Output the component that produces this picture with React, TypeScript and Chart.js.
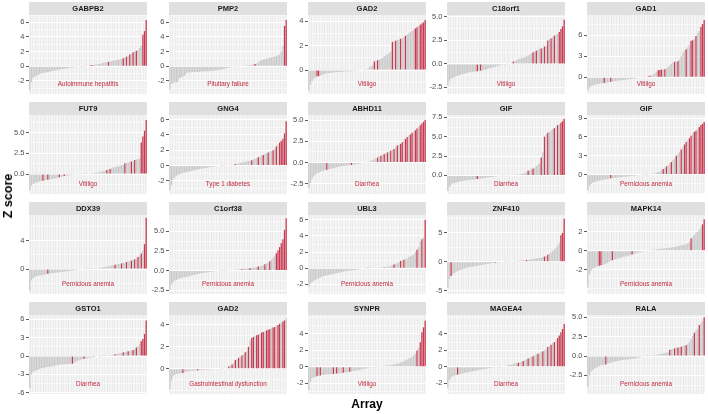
import React, { useEffect, useRef } from "react";
import { Chart, registerables } from "chart.js";
Chart.register(...registerables);

// ---------- data ----------
const genes = ["GABPB2", "PMP2", "GAD2", "C18orf1", "GAD1", "FUT9", "GNG4", "ABHD11", "GIF", "GIF",
  "DDX39", "C1orf38", "UBL3", "ZNF410", "MAPK14", "GSTO1", "GAD2", "SYNPR", "MAGEA4", "RALA"];
const diseases = ["Autoimmune hepatitis", "Pituitary failure", "Vitiligo", "Vitiligo", "Vitiligo",
  "Vitiligo", "Type 1 diabetes", "Diarrhea", "Diarrhea", "Pernicious anemia",
  "Pernicious anemia", "Pernicious anemia", "Pernicious anemia", "", "Pernicious anemia",
  "Diarrhea", "Gastrointestinal dysfunction", "Vitiligo", "Diarrhea", "Pernicious anemia"];
const yMins = [-3.8, -3.8, -1.96, -3.2, -2.4, -2.4, -3.7, -3.7, -2.4, -3.1, -3.5, -3.0, -3.2, -5.6, -4.6, -6.2, -2.3, -3.3, -3.3, -4.9];
const yMaxs = [7.0, 7.0, 4.5, 5.2, 8.9, 7.1, 6.6, 5.6, 7.8, 9.5, 7.6, 7.1, 6.6, 8.1, 3.8, 6.7, 4.9, 6.3, 6.3, 5.3];
const tickSets = [
  [-2, 0, 2, 4, 6], [-2, 0, 2, 4, 6], [0, 2, 4], [-2.5, 0, 2.5, 5], [0, 3, 6],
  [0, 2.5, 5], [-2, 0, 2, 4, 6], [-2.5, 0, 2.5, 5], [0, 2.5, 5, 7.5], [0, 3, 6, 9],
  [0, 4], [-2.5, 0, 2.5, 5], [-2, 0, 2, 4, 6], [-5, 0, 5], [-2, 0, 2],
  [-6, -3, 0, 3, 6], [0, 2, 4], [-2, 0, 2, 4], [-2, 0, 2, 4], [-2.5, 0, 2.5, 5]];

const arrays = Array.from({ length: 72 }, (_, i) => String(i + 1));

const z01 = [-3.3, -2.2, -1.6, -1.4, -1.3, -1.2, -1.1, -1.0, -0.95, -0.9, -0.85, -0.8,
  -0.75, -0.7, -0.65, -0.6, -0.55, -0.5, -0.45, -0.42, -0.38, -0.35, -0.3, -0.27,
  -0.24, -0.2, -0.17, -0.14, -0.11, -0.08, -0.05, -0.03, -0.02, -0.01, 0.01, 0.02,
  0.05, 0.15, 0.18, 0.2, 0.22, 0.25, 0.3, 0.35, 0.4, 0.45, 0.5, 0.55,
  0.6, 0.65, 0.7, 0.75, 0.8, 0.85, 0.9, 0.95, 1.0, 1.1, 1.2, 1.3,
  1.4, 1.6, 1.7, 1.9, 2.0, 2.1, 2.2, 2.5, 2.8, 4.3, 4.8, 6.3];
const red01 = [37, 38, 48, 57, 59, 61, 63, 65, 69, 70, 71];

const z02 = [-3.2, -2.4, -2.3, -2.2, -2.2, -2.1, -1.6, -1.5, -1.4, -1.3, -1.0, -0.9,
  -0.85, -0.85, -0.8, -0.8, -0.8, -0.78, -0.76, -0.74, -0.72, -0.7, -0.7, -0.68,
  -0.66, -0.64, -0.62, -0.6, -0.58, -0.55, -0.5, -0.45, -0.4, -0.35, -0.3, -0.25,
  -0.2, -0.15, -0.1, -0.05, -0.02, 0.01, 0.03, 0.05, 0.07, 0.09, 0.1, 0.12,
  0.14, 0.16, 0.2, 0.25, 0.3, 0.35, 0.5, 0.7, 0.8, 0.9, 1.0, 1.05,
  1.1, 1.15, 1.2, 1.25, 1.3, 1.4, 1.5, 1.6, 2.0, 2.8, 5.5, 6.3];
const red02 = [52, 70, 71];

const z03 = [-1.7, -1.2, -0.9, -0.7, -0.6, -0.5, -0.5, -0.45, -0.4, -0.35, -0.3, -0.28,
  -0.26, -0.24, -0.22, -0.2, -0.19, -0.18, -0.17, -0.16, -0.15, -0.14, -0.13, -0.12,
  -0.11, -0.1, -0.09, -0.08, -0.07, -0.06, -0.05, -0.04, -0.03, -0.02, -0.01, 0.02,
  0.1, 0.2, 0.3, 0.4, 0.7, 0.75, 0.8, 0.85, 0.9, 1.0, 1.1, 1.2,
  1.3, 1.4, 1.5, 2.3, 2.35, 2.4, 2.45, 2.5, 2.55, 2.6, 2.7, 2.8,
  2.9, 3.0, 3.1, 3.2, 3.3, 3.4, 3.5, 3.6, 3.7, 3.8, 3.9, 4.1];
const red03 = [5, 6, 40, 42, 51, 53, 56, 59, 65, 66, 68, 69, 70, 71];

const z04 = [-2.3, -1.8, -1.6, -1.5, -1.4, -1.3, -1.25, -1.2, -1.15, -1.1, -1.05, -1.0,
  -0.95, -0.9, -0.88, -0.85, -0.82, -0.8, -0.78, -0.75, -0.72, -0.7, -0.65, -0.6,
  -0.55, -0.5, -0.45, -0.4, -0.35, -0.3, -0.25, -0.2, -0.15, -0.1, -0.05, -0.02,
  0.01, 0.03, 0.05, 0.1, 0.25, 0.3, 0.4, 0.5, 0.55, 0.6, 0.65, 0.7,
  0.8, 0.9, 1.0, 1.1, 1.25, 1.3, 1.4, 1.5, 1.6, 1.65, 1.7, 1.85,
  1.9, 2.5, 2.6, 2.7, 2.8, 3.0, 3.1, 3.2, 3.4, 3.7, 4.0, 4.7];
const red04 = [18, 20, 40, 52, 54, 57, 59, 61, 63, 65, 68, 69, 70, 71];

const z05 = [-1.9, -1.5, -1.3, -1.2, -1.1, -1.05, -1.0, -0.95, -0.9, -0.85, -0.82, -0.8,
  -0.75, -0.7, -0.66, -0.65, -0.6, -0.55, -0.5, -0.48, -0.45, -0.42, -0.4, -0.37,
  -0.34, -0.3, -0.27, -0.24, -0.2, -0.17, -0.14, -0.1, -0.07, -0.04, -0.02, 0.01,
  0.05, 0.15, 0.2, 0.25, 0.4, 0.6, 0.8, 1.0, 1.05, 1.1, 1.1, 1.15,
  1.3, 1.5, 1.7, 1.9, 2.1, 2.2, 2.25, 2.3, 2.5, 3.0, 3.5, 3.8,
  4.0, 4.3, 4.6, 5.2, 5.3, 5.5, 5.9, 6.3, 6.6, 7.2, 7.6, 8.2];
const red05 = [10, 14, 37, 38, 43, 44, 45, 47, 53, 55, 60, 63, 64, 66, 69, 70, 71];

const z06 = [-1.9, -1.4, -1.2, -1.1, -1.0, -0.95, -0.9, -0.85, -0.8, -0.75, -0.7, -0.68,
  -0.65, -0.6, -0.58, -0.55, -0.5, -0.45, -0.4, -0.35, -0.3, -0.25, -0.2, -0.18,
  -0.15, -0.12, -0.1, -0.08, -0.06, -0.04, -0.03, -0.02, -0.01, 0.01, 0.02, 0.03,
  0.05, 0.07, 0.1, 0.12, 0.15, 0.18, 0.2, 0.25, 0.3, 0.35, 0.4, 0.5,
  0.55, 0.6, 0.7, 0.8, 0.85, 0.9, 0.95, 1.0, 1.05, 1.1, 1.3, 1.35,
  1.4, 1.45, 1.5, 1.55, 1.7, 1.75, 1.8, 1.9, 3.8, 4.5, 5.2, 6.5];
const red06 = [8, 11, 18, 21, 47, 49, 58, 62, 64, 68, 69, 70, 71];

const z07 = [-3.2, -2.5, -1.8, -1.5, -1.3, -1.2, -1.1, -1.0, -0.95, -0.9, -0.85, -0.8,
  -0.75, -0.7, -0.65, -0.6, -0.55, -0.5, -0.46, -0.42, -0.38, -0.34, -0.3, -0.26,
  -0.22, -0.18, -0.15, -0.12, -0.09, -0.06, -0.04, -0.02, 0.01, 0.02, 0.03, 0.05,
  0.08, 0.1, 0.12, 0.15, 0.2, 0.25, 0.3, 0.35, 0.4, 0.45, 0.5, 0.55,
  0.6, 0.65, 0.7, 0.8, 0.9, 1.0, 1.1, 1.2, 1.3, 1.4, 1.5, 1.6,
  1.7, 1.8, 1.9, 2.0, 2.2, 2.5, 2.8, 3.0, 3.2, 3.5, 4.2, 5.8];
const red07 = [37, 40, 50, 54, 57, 60, 63, 65, 67, 68, 69, 70, 71];

const z08 = [-3.0, -2.4, -1.9, -1.6, -1.4, -1.3, -1.2, -1.1, -1.0, -0.95, -0.9, -0.85,
  -0.8, -0.75, -0.7, -0.65, -0.6, -0.55, -0.5, -0.47, -0.44, -0.41, -0.38, -0.35,
  -0.32, -0.3, -0.28, -0.25, -0.22, -0.19, -0.16, -0.13, -0.1, -0.07, -0.04, -0.01,
  0.02, 0.1, 0.2, 0.3, 0.4, 0.5, 0.6, 0.7, 0.8, 0.9, 1.0, 1.1,
  1.2, 1.3, 1.4, 1.5, 1.6, 1.8, 2.0, 2.1, 2.2, 2.4, 2.6, 2.8,
  3.0, 3.2, 3.3, 3.5, 3.6, 3.8, 4.0, 4.2, 4.4, 4.6, 4.8, 5.0];
const red08 = [11, 26, 42, 44, 46, 48, 50, 52, 54, 56, 57, 59, 60, 62, 63, 65, 66, 68, 69, 70, 71];

const z09 = [-2.0, -1.5, -1.2, -1.0, -0.95, -0.9, -0.85, -0.8, -0.75, -0.7, -0.68, -0.65,
  -0.62, -0.6, -0.57, -0.55, -0.52, -0.5, -0.45, -0.42, -0.4, -0.37, -0.34, -0.31,
  -0.28, -0.25, -0.22, -0.19, -0.16, -0.13, -0.1, -0.08, -0.06, -0.04, -0.02, 0.01,
  0.02, 0.03, 0.04, 0.05, 0.06, 0.08, 0.1, 0.12, 0.15, 0.2, 0.25, 0.3,
  0.4, 0.6, 0.7, 0.8, 0.9, 1.0, 1.2, 1.4, 1.6, 2.3, 3.0, 5.0,
  5.3, 5.5, 5.6, 5.8, 6.0, 6.1, 6.3, 6.5, 6.6, 6.8, 7.0, 7.3];
const red09 = [18, 49, 52, 57, 59, 61, 65, 67, 69, 70, 71];

const z10 = [-2.5, -1.8, -1.5, -1.3, -1.2, -1.1, -1.0, -0.95, -0.9, -0.85, -0.8, -0.75,
  -0.7, -0.65, -0.6, -0.58, -0.55, -0.5, -0.47, -0.44, -0.41, -0.38, -0.35, -0.32,
  -0.29, -0.26, -0.23, -0.2, -0.17, -0.14, -0.11, -0.08, -0.05, -0.03, -0.01, 0.01,
  0.03, 0.05, 0.08, 0.1, 0.15, 0.2, 0.3, 0.4, 0.5, 0.7, 0.9, 1.1,
  1.3, 1.5, 1.8, 2.0, 2.3, 2.6, 3.0, 3.3, 3.6, 4.0, 4.4, 4.8,
  5.2, 5.5, 5.8, 6.2, 6.5, 6.8, 7.0, 7.3, 7.6, 7.9, 8.1, 8.4];
const red10 = [14, 46, 48, 51, 54, 57, 59, 60, 62, 63, 65, 66, 68, 69, 70, 71];

const z11 = [-3.0, -1.6, -1.3, -1.1, -1.0, -0.95, -0.9, -0.85, -0.8, -0.75, -0.7, -0.65,
  -0.62, -0.6, -0.57, -0.54, -0.51, -0.48, -0.45, -0.42, -0.39, -0.36, -0.33, -0.3,
  -0.27, -0.24, -0.21, -0.18, -0.15, -0.12, -0.1, -0.08, -0.06, -0.04, -0.02, 0.01,
  0.02, 0.04, 0.06, 0.08, 0.1, 0.12, 0.15, 0.18, 0.22, 0.26, 0.3, 0.35,
  0.4, 0.45, 0.5, 0.55, 0.6, 0.65, 0.7, 0.75, 0.8, 0.85, 0.9, 1.0,
  1.05, 1.1, 1.2, 1.3, 1.4, 1.5, 1.7, 1.9, 2.2, 2.6, 3.5, 7.2];
const red11 = [11, 52, 56, 59, 62, 64, 66, 68, 70, 71];

const z12 = [-2.5, -1.8, -1.5, -1.3, -1.2, -1.1, -1.0, -0.95, -0.9, -0.85, -0.8, -0.75,
  -0.7, -0.65, -0.6, -0.55, -0.5, -0.45, -0.4, -0.36, -0.32, -0.28, -0.25, -0.22,
  -0.19, -0.16, -0.13, -0.1, -0.08, -0.06, -0.04, -0.02, -0.01, 0.01, 0.02, 0.03,
  0.04, 0.05, 0.06, 0.08, 0.1, 0.12, 0.14, 0.16, 0.18, 0.2, 0.22, 0.25,
  0.28, 0.3, 0.33, 0.36, 0.4, 0.45, 0.5, 0.55, 0.6, 0.7, 0.8, 0.9,
  1.0, 1.2, 1.4, 1.6, 1.9, 2.2, 2.6, 3.0, 3.5, 4.0, 5.2, 6.7];
const red12 = [39, 44, 49, 54, 58, 61, 65, 66, 67, 68, 69, 70, 71];

const z13 = [-2.3, -1.9, -1.7, -1.55, -1.45, -1.35, -1.25, -1.15, -1.05, -1.0, -0.95, -0.9,
  -0.85, -0.8, -0.75, -0.7, -0.65, -0.6, -0.56, -0.52, -0.48, -0.44, -0.4, -0.36,
  -0.33, -0.3, -0.27, -0.24, -0.21, -0.18, -0.15, -0.12, -0.09, -0.06, -0.04, -0.02,
  0.01, 0.02, 0.03, 0.04, 0.05, 0.06, 0.07, 0.08, 0.09, 0.1, 0.12, 0.15,
  0.2, 0.25, 0.3, 0.35, 0.45, 0.55, 0.6, 0.7, 0.9, 1.0, 1.05, 1.1,
  1.2, 1.4, 1.5, 1.6, 1.7, 2.0, 2.3, 2.6, 3.3, 3.6, 3.8, 6.0];
const red13 = [36, 46, 52, 56, 58, 66, 69, 71];

const z14 = [-4.5, -3.0, -2.5, -2.2, -2.0, -1.8, -1.6, -1.5, -1.4, -1.3, -1.2, -1.1,
  -1.0, -0.95, -0.9, -0.85, -0.8, -0.75, -0.7, -0.65, -0.6, -0.55, -0.5, -0.45,
  -0.4, -0.36, -0.32, -0.28, -0.24, -0.2, -0.17, -0.14, -0.11, -0.08, -0.05, -0.02,
  0.01, 0.03, 0.05, 0.07, 0.09, 0.11, 0.13, 0.15, 0.18, 0.21, 0.24, 0.27,
  0.3, 0.33, 0.36, 0.4, 0.45, 0.5, 0.55, 0.6, 0.65, 0.7, 0.8, 0.9,
  1.0, 1.2, 1.4, 1.6, 1.8, 2.1, 2.4, 2.8, 3.3, 4.6, 5.0, 7.5];
const red14 = [2, 29, 41, 48, 59, 61, 69, 70, 71];

const z15 = [-3.9, -2.5, -2.1, -1.9, -1.8, -1.7, -1.65, -1.6, -1.55, -1.5, -1.45, -1.4,
  -1.3, -1.2, -1.1, -1.0, -0.95, -0.9, -0.85, -0.8, -0.75, -0.7, -0.65, -0.6,
  -0.55, -0.5, -0.45, -0.4, -0.35, -0.3, -0.25, -0.2, -0.15, -0.1, -0.06, -0.02,
  0.02, 0.05, 0.08, 0.1, 0.12, 0.14, 0.16, 0.18, 0.2, 0.22, 0.24, 0.26,
  0.28, 0.3, 0.32, 0.35, 0.38, 0.41, 0.44, 0.47, 0.5, 0.55, 0.6, 0.65,
  0.7, 0.8, 0.9, 1.3, 1.5, 1.7, 1.9, 2.0, 2.2, 2.5, 2.8, 3.35];
const red15 = [7, 8, 15, 27, 63, 70, 71];

const z16 = [-5.2, -3.0, -2.6, -2.4, -2.3, -2.2, -2.1, -2.0, -1.95, -1.9, -1.85, -1.8,
  -1.75, -1.7, -1.65, -1.6, -1.55, -1.5, -1.45, -1.4, -1.38, -1.36, -1.34, -1.32,
  -1.3, -1.28, -1.25, -1.1, -0.95, -0.8, -0.7, -0.6, -0.5, -0.45, -0.4, -0.35,
  -0.3, -0.25, -0.2, -0.15, -0.1, -0.06, -0.03, -0.01, 0.01, 0.02, 0.03, 0.05,
  0.08, 0.12, 0.16, 0.2, 0.3, 0.35, 0.4, 0.45, 0.5, 0.6, 0.65, 0.7,
  0.8, 0.85, 0.9, 1.0, 1.1, 1.4, 1.6, 2.0, 2.4, 2.8, 3.6, 5.8];
const red16 = [26, 33, 39, 52, 57, 60, 63, 65, 68, 69, 70, 71];

const z17 = [-1.9, -1.1, -0.7, -0.55, -0.48, -0.44, -0.42, -0.4, -0.38, -0.3, -0.25, -0.22,
  -0.2, -0.19, -0.18, -0.17, -0.16, -0.15, -0.14, -0.13, -0.12, -0.11, -0.1, -0.09,
  -0.08, -0.07, -0.06, -0.05, -0.04, -0.03, -0.02, -0.01, 0.01, 0.02, 0.03, 0.1,
  0.2, 0.3, 0.4, 0.6, 0.8, 0.9, 1.0, 1.1, 1.2, 1.3, 1.5, 1.6,
  2.0, 2.6, 2.8, 2.9, 3.0, 3.05, 3.1, 3.2, 3.3, 3.35, 3.4, 3.5,
  3.55, 3.6, 3.7, 3.75, 3.8, 3.9, 4.0, 4.1, 4.2, 4.3, 4.4, 4.6];
const red17 = [8, 17, 36, 38, 40, 42, 44, 46, 48, 50, 51, 53, 54, 56, 57, 59, 60, 61, 63, 64, 66, 67, 69, 70];

const z18 = [-2.8, -1.8, -1.4, -1.3, -1.2, -1.15, -1.1, -1.05, -1.0, -0.98, -0.96, -0.94,
  -0.92, -0.9, -0.88, -0.86, -0.84, -0.82, -0.8, -0.78, -0.75, -0.72, -0.69, -0.66,
  -0.63, -0.6, -0.56, -0.52, -0.48, -0.44, -0.4, -0.36, -0.32, -0.28, -0.24, -0.2,
  -0.16, -0.12, -0.08, -0.05, -0.02, 0.01, 0.03, 0.05, 0.08, 0.1, 0.12, 0.15,
  0.18, 0.2, 0.23, 0.26, 0.3, 0.35, 0.4, 0.45, 0.5, 0.6, 0.7, 0.8,
  0.9, 1.0, 1.1, 1.2, 1.4, 1.6, 2.0, 2.3, 3.0, 4.2, 4.8, 5.6];
const red18 = [5, 7, 15, 17, 21, 25, 66, 68, 69, 70, 71];

const z19 = [-2.5, -1.6, -1.3, -1.15, -1.05, -1.0, -0.95, -0.9, -0.85, -0.8, -0.75, -0.7,
  -0.66, -0.62, -0.58, -0.54, -0.5, -0.46, -0.42, -0.38, -0.34, -0.3, -0.27, -0.24,
  -0.21, -0.18, -0.15, -0.12, -0.09, -0.06, -0.03, -0.01, 0.01, 0.03, 0.06, 0.1,
  0.15, 0.2, 0.25, 0.3, 0.35, 0.4, 0.45, 0.5, 0.55, 0.6, 0.7, 0.8,
  0.9, 1.0, 1.1, 1.2, 1.3, 1.4, 1.5, 1.6, 1.7, 1.8, 1.9, 2.0,
  2.2, 2.4, 2.5, 2.7, 2.9, 3.0, 3.2, 3.5, 3.8, 4.2, 4.6, 5.2];
const red19 = [6, 43, 46, 49, 52, 55, 58, 61, 63, 65, 67, 68, 69, 70, 71];

const z20 = [-4.0, -2.5, -2.0, -1.8, -1.6, -1.5, -1.4, -1.3, -1.2, -1.15, -1.12, -1.1,
  -0.95, -0.9, -0.85, -0.8, -0.75, -0.7, -0.65, -0.6, -0.55, -0.5, -0.48, -0.46,
  -0.44, -0.42, -0.4, -0.38, -0.35, -0.3, -0.25, -0.2, -0.15, -0.1, -0.06, -0.03,
  0.01, 0.03, 0.05, 0.08, 0.1, 0.13, 0.16, 0.2, 0.25, 0.3, 0.35, 0.4,
  0.45, 0.5, 0.8, 0.85, 0.9, 1.0, 1.05, 1.1, 1.15, 1.2, 1.3, 1.35,
  1.4, 1.6, 1.8, 2.2, 2.6, 3.0, 3.3, 3.5, 4.0, 4.2, 4.5, 5.0];
const red20 = [11, 50, 53, 55, 57, 60, 65, 68, 71];

const seriesList = [z01, z02, z03, z04, z05, z06, z07, z08, z09, z10, z11, z12, z13, z14, z15, z16, z17, z18, z19, z20];
const redList = [red01, red02, red03, red04, red05, red06, red07, red08, red09, red10, red11, red12, red13, red14, red15, red16, red17, red18, red19, red20];

// ---------- style / layout ----------
const FONT = "'Liberation Sans', Arial, Helvetica, sans-serif";
const PANEL_W = 118;
const PLOT_H = 79;
const STRIP_H = 13;
const AXIS_W = 22;
const PAD_B = 6;
const COL_LEFT = [29, 169, 308, 447, 587];
const ROW_TOP = [2, 102, 202, 302];
const GRAY = "#CACACA";
const RED = "#C93A51";
const PANEL_BG = "#EBEBEB";
const STRIP_BG = "#E0E0E0";
const LABEL_RED = "#C3283F";

function Panel({ idx }: { idx: number }) {
  const ref = useRef<HTMLCanvasElement | null>(null);
  const r = Math.floor(idx / 5);
  const c = idx % 5;
  useEffect(() => {
    const values = seriesList[idx];
    const reds = redList[idx];
    const majors = tickSets[idx];
    const step = majors.length > 1 ? majors[1] - majors[0] : 1;
    const decimals = Number.isInteger(step) ? 0 : 1;
    const yMin = yMins[idx];
    const yMax = yMaxs[idx];
    const all: number[] = [];
    const first = majors[0] - step * 2;
    for (let v = first; v <= majors[majors.length - 1] + step * 2 + 1e-9; v += step / 2) {
      const rv = Math.round(v * 1000) / 1000;
      if (rv >= yMin && rv <= yMax) all.push(rv);
    }
    const isMajor = (v: any) => majors.some((m) => Math.abs(m - v) < 1e-6);
    const gene = genes[idx];
    const disease = diseases[idx];
    const panelPlugin = {
      id: "panelDeco" + idx,
      beforeDraw(chart: any) {
        const { ctx, chartArea: a } = chart;
        ctx.save();
        ctx.fillStyle = PANEL_BG;
        ctx.fillRect(a.left, a.top, a.right - a.left, a.bottom - a.top);
        ctx.fillStyle = STRIP_BG;
        ctx.fillRect(a.left, a.top - STRIP_H, a.right - a.left, STRIP_H);
        ctx.fillStyle = "#1A1A1A";
        ctx.font = `bold 7.5px ${FONT}`;
        ctx.textAlign = "center";
        ctx.textBaseline = "middle";
        ctx.fillText(gene, (a.left + a.right) / 2, a.top - STRIP_H / 2 + 0.5);
        ctx.restore();
      },
      afterDatasetsDraw(chart: any) {
        if (!disease) return;
        const { ctx, chartArea: a } = chart;
        ctx.save();
        ctx.fillStyle = LABEL_RED;
        ctx.font = `6.3px ${FONT}`;
        ctx.textAlign = "center";
        ctx.textBaseline = "middle";
        ctx.fillText(disease, (a.left + a.right) / 2, a.bottom - 10);
        ctx.restore();
      },
    };
    const chart = new Chart(ref.current as HTMLCanvasElement, {
      type: "bar",
      data: {
        labels: arrays,
        datasets: [
          {
            data: values,
            backgroundColor: values.map((_, i) => (reds.includes(i) ? RED : GRAY)),
            borderWidth: 0,
            barPercentage: 0.8,
            categoryPercentage: 1,
          },
        ],
      },
      options: {
        responsive: false,
        maintainAspectRatio: false,
        animation: false,
        events: [],
        layout: { padding: { top: STRIP_H, bottom: PAD_B, left: 0, right: 0 } },
        plugins: { legend: { display: false }, tooltip: { enabled: false }, title: { display: false } },
        scales: {
          x: {
            type: "category",
            offset: true,
            ticks: { display: false, autoSkip: false },
            grid: { color: "#FFFFFF", lineWidth: 0.5, offset: false, drawTicks: false },
            border: { display: false },
            afterFit: (s: any) => {
              s.height = 0;
            },
          },
          y: {
            type: "linear",
            min: yMin,
            max: yMax,
            afterBuildTicks: (s: any) => {
              s.ticks = all.map((v) => ({ value: v }));
            },
            afterFit: (s: any) => {
              s.width = AXIS_W;
            },
            ticks: {
              autoSkip: false,
              padding: 1.5,
              color: "#4D4D4D",
              font: { family: FONT, size: 7.5 },
              callback: (v: any) => (isMajor(v) ? Number(v).toFixed(decimals) : ""),
            },
            grid: {
              color: "#FFFFFF",
              lineWidth: (ctx: any) => (ctx.tick && isMajor(ctx.tick.value) ? 1 : 0.5),
              tickColor: (ctx: any) => (ctx.tick && isMajor(ctx.tick.value) ? "#333333" : "rgba(0,0,0,0)"),
              tickWidth: 0.8,
              tickLength: 3,
              drawTicks: true,
            },
            border: { display: false },
          },
        },
      },
      plugins: [panelPlugin],
    } as any);
    return () => chart.destroy();
  }, [idx]);
  return (
    <canvas
      ref={ref}
      width={AXIS_W + PANEL_W}
      height={STRIP_H + PLOT_H + PAD_B}
      style={{ position: "absolute", left: COL_LEFT[c] - AXIS_W, top: ROW_TOP[r], width: AXIS_W + PANEL_W, height: STRIP_H + PLOT_H + PAD_B }}
    />
  );
}

export default function App() {
  return (
    <div style={{ position: "absolute", left: 0, top: 0, width: 708, height: 414, background: "#FFFFFF", fontFamily: FONT, overflow: "hidden" }}>
      {genes.map((_, i) => (
        <Panel key={i} idx={i} />
      ))}
      <div style={{ position: "absolute", left: 367, top: 404, transform: "translate(-50%, -50%)", fontWeight: 700, fontSize: 12, color: "#000", whiteSpace: "nowrap" }}>
        Array
      </div>
      <div style={{ position: "absolute", left: 8, top: 196, transform: "translate(-50%, -50%) rotate(-90deg)", fontWeight: 700, fontSize: 12.5, color: "#000", whiteSpace: "nowrap" }}>
        Z score
      </div>
    </div>
  );
}
